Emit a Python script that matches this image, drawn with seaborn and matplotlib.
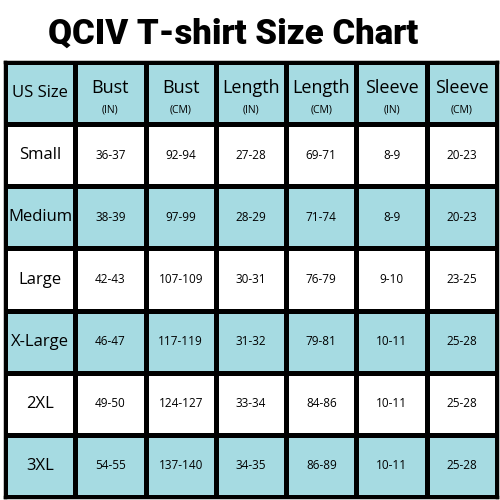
import matplotlib
matplotlib.use("Agg")
import matplotlib.pyplot as plt
import seaborn as sns
import numpy as np
from matplotlib.colors import ListedColormap

title = "QCIV T-shirt Size Chart"
headers = ["Bust", "Bust", "Length", "Length", "Sleeve", "Sleeve"]
units = ["(IN)", "(CM)", "(IN)", "(CM)", "(IN)", "(CM)"]
sizes = ["Small", "Medium", "Large", "X-Large", "2XL", "3XL"]
bust_in = ["36-37", "38-39", "42-43", "46-47", "49-50", "54-55"]
bust_cm = ["92-94", "97-99", "107-109", "117-119", "124-127", "137-140"]
length_in = ["27-28", "28-29", "30-31", "31-32", "33-34", "34-35"]
length_cm = ["69-71", "71-74", "76-79", "79-81", "84-86", "86-89"]
sleeve_in = ["8-9", "8-9", "9-10", "10-11", "10-11", "10-11"]
sleeve_cm = ["20-23", "20-23", "23-25", "25-28", "25-28", "25-28"]

cols = [bust_in, bust_cm, length_in, length_cm, sleeve_in, sleeve_cm]
nrows = len(sizes) + 1
ncols = len(cols) + 1
shade = np.array([[1 if (r % 2 == 0) else 0] * ncols for r in range(nrows)])

fig = plt.figure(figsize=(5, 5), dpi=100)
fig.patch.set_facecolor("white")
ax = fig.add_axes([0.01, 0.006, 0.984, 0.87])
sns.heatmap(shade, cmap=ListedColormap(["white", "#a6dbe2"]), cbar=False,
            linewidths=2.2, linecolor="black", ax=ax)
ax.set_xticks([]); ax.set_yticks([])
for s in ax.spines.values():
    s.set_visible(True); s.set_linewidth(2.5); s.set_color("black")

font = "Open Sans"
ax.text(0.5, 0.5, "US Size", ha="center", va="center", fontsize=12, family=font)
for j, (h, u) in enumerate(zip(headers, units)):
    ax.text(j + 1.5, 0.42, h, ha="center", va="center", fontsize=13, family=font)
    ax.text(j + 1.5, 0.78, u, ha="center", va="center", fontsize=7.5, family=font)
for i, s in enumerate(sizes):
    ax.text(0.5, i + 1.5, s, ha="center", va="center", fontsize=12, family=font)
    for j, c in enumerate(cols):
        ax.text(j + 1.5, i + 1.5, c[i], ha="center", va="center", fontsize=8.5, family=font)

fig.text(0.466, 0.932, title, ha="center", va="center", fontsize=25,
         fontweight="black", family="Roboto")
fig.savefig("out.png", dpi=100)
